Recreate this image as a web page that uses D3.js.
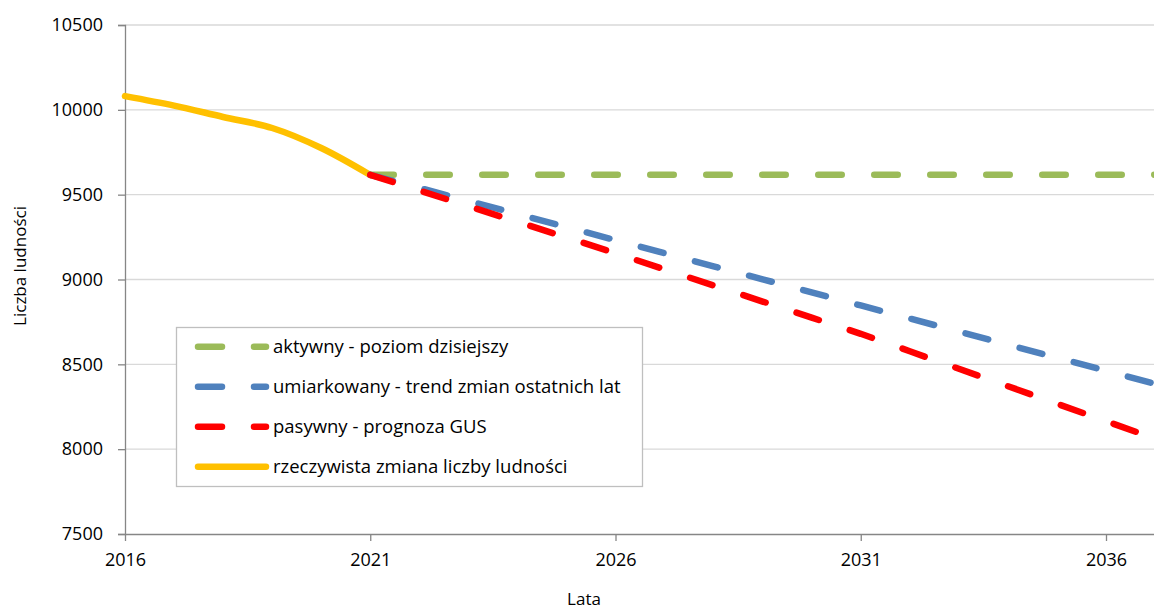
<!DOCTYPE html>
<html>
<head>
<meta charset="utf-8">
<script src="https://cdn.jsdelivr.net/npm/d3@7"></script>
<style>
  body { margin:0; background:#fff; }
  svg text { font-family:"Open Sans", sans-serif; fill:#000; }
</style>
</head>
<body>
<svg id="chart" width="1154" height="610"></svg>
<script>
// dane
const actualYears=[2016,2017,2018,2019,2020,2021];
const actualValues=[10081,10025,9958,9893,9775,9616];

const forecastYears=[2021,2022,2023,2024,2025,2026,2027,2028,2029,2030,2031,2032,2033,2034,2035,2036,2037];
const aktywny=[9617,9617,9617,9617,9617,9617,9617,9617,9617,9617,9617,9617,9617,9617,9617,9617,9617];
const umiarkowany=[9617,9540,9463,9386,9309,9232,9155,9078,9001,8924,8847,8770,8693,8616,8539,8462,8385];
const pasywny=[9617,9525,9432,9340,9248,9155,9060,8965,8870,8775,8680,8577,8474,8371,8268,8165,8062];

const xTicks=[2016,2021,2026,2031,2036];
const yTicks=[7500,8000,8500,9000,9500,10000,10500];

const seriesNames=[
    "aktywny - poziom dzisiejszy",
    "umiarkowany - trend zmian ostatnich lat",
    "pasywny - prognoza GUS",
    "rzeczywista zmiana liczby ludności"
];
const seriesColors=["#9BBB59","#4F81BD","#FF0000","#FFC000"];

const plotLeft=125, plotRight=1154, plotTop=25, plotBottom=534;
const svg=d3.select("#chart");

const x=d3.scaleLinear().domain([2016,2037]).range([plotLeft,plotLeft+21*49.05]);
const y=d3.scaleLinear().domain([7500,10500]).range([plotBottom,plotTop]);

// siatka
svg.append("g").selectAll("line")
    .data(yTicks.filter(v=>v>7500))
    .join("line")
    .attr("x1",plotLeft).attr("x2",plotRight)
    .attr("y1",d=>y(d)).attr("y2",d=>y(d))
    .attr("stroke","#d9d9d9").attr("stroke-width",1.3);

// osie
const yAxis=svg.append("g").attr("transform",`translate(${plotLeft},0)`)
    .call(d3.axisLeft(y).tickValues(yTicks).tickSize(7).tickPadding(15).tickFormat(d3.format("d")));
const xAxis=svg.append("g").attr("transform",`translate(0,${plotBottom})`)
    .call(d3.axisBottom(x).tickValues(xTicks).tickSize(7).tickPadding(12).tickFormat(d3.format("d")));
[yAxis,xAxis].forEach(a=>{
    a.select(".domain").attr("stroke","#868686").attr("stroke-width",1.3);
    a.selectAll(".tick line").attr("stroke","#868686").attr("stroke-width",1.3);
    a.selectAll("text").attr("font-size",18).attr("fill","#000").style("font-family","Open Sans");
});
xAxis.select(".domain").attr("d",`M${plotLeft},0.5H${plotRight}`);

svg.append("text").attr("x",584).attr("y",605).attr("text-anchor","middle")
    .attr("font-size",17).text("Lata");
svg.append("text").attr("transform","translate(26,266) rotate(-90)").attr("text-anchor","middle")
    .attr("font-size",17).text("Liczba ludności");

// linie
svg.append("clipPath").attr("id","plot").append("rect")
    .attr("x",plotLeft-10).attr("y",0).attr("width",plotRight-plotLeft+10).attr("height",plotBottom);
const plot=svg.append("g").attr("clip-path","url(#plot)");

const smooth=d3.line().x(d=>x(d[0])).y(d=>y(d[1])).curve(d3.curveCatmullRom.alpha(0.5));
const straight=d3.line().x(d=>x(d[0])).y(d=>y(d[1]));

plot.append("path")
    .attr("d",smooth(d3.zip(actualYears,actualValues)))
    .attr("fill","none").attr("stroke",seriesColors[3]).attr("stroke-width",6.5)
    .attr("stroke-linecap","round");

[aktywny,umiarkowany,pasywny].forEach((vals,i)=>{
    plot.append("path")
        .attr("d",straight(d3.zip(forecastYears,vals)))
        .attr("fill","none").attr("stroke",seriesColors[i]).attr("stroke-width",6.5)
        .attr("stroke-linecap","round").attr("stroke-dasharray","23.5 32.5");
});

// legenda
const legend=svg.append("g");
legend.append("rect").attr("x",176.5).attr("y",327.5).attr("width",466).attr("height",159)
    .attr("fill","#fff").attr("stroke","#bfbfbf").attr("stroke-width",1.3);
seriesNames.forEach((name,i)=>{
    const cy=346.7+i*40;
    legend.append("line").attr("x1",198).attr("x2",266).attr("y1",cy).attr("y2",cy)
        .attr("stroke",seriesColors[i]).attr("stroke-width",6.5).attr("stroke-linecap","round")
        .attr("stroke-dasharray",i<3?"24 32":null);
    legend.append("text").attr("x",273).attr("y",cy+6.5).attr("font-size",18.5).text(name);
});
</script>
</body>
</html>
